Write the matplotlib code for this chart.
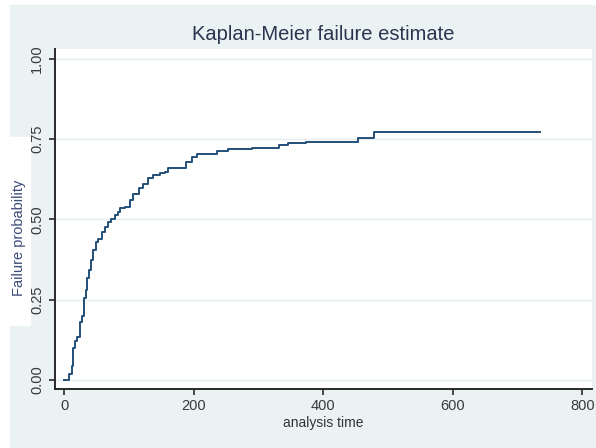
import matplotlib
matplotlib.use("Agg")
import matplotlib.pyplot as plt
from matplotlib.patches import Rectangle

# Kaplan-Meier failure estimate, step points
time = [0, 7, 12, 14, 17, 20, 24, 27, 30, 34, 36, 38, 42, 45, 49, 53, 58, 63,
        68, 72, 79, 84, 87, 94, 102, 107, 115, 122, 130, 138, 148, 156, 161,
        189, 197, 205, 236, 253, 290, 332, 346, 374, 454, 478, 734]
failure = [0.0, 0.02, 0.045, 0.10, 0.12, 0.135, 0.18, 0.20, 0.254, 0.28, 0.318,
           0.343, 0.374, 0.405, 0.43, 0.44, 0.462, 0.478, 0.493, 0.50, 0.514,
           0.524, 0.535, 0.54, 0.56, 0.58, 0.597, 0.612, 0.628, 0.639, 0.644,
           0.649, 0.659, 0.68, 0.696, 0.705, 0.712, 0.718, 0.724, 0.732, 0.737,
           0.742, 0.753, 0.771, 0.771]

xticks = [0, 200, 400, 600, 800]
yticks = [0.0, 0.25, 0.5, 0.75, 1.0]
ytick_labels = ["0.00", "0.25", "0.50", "0.75", "1.00"]

plt.rcParams['font.family'] = ['Liberation Sans', 'DejaVu Sans']

W, H = 596, 448
fig = plt.figure(figsize=(W / 100, H / 100), dpi=100, facecolor="white")

bg = "#eaf2f3"
# graph region (stata style), plus the white notch on the left of the screenshot
fig.patches.append(Rectangle((10 / W, 0), 1 - 10 / W, 1 - 5 / H,
                             transform=fig.transFigure, color=bg, zorder=-10))
fig.patches.append(Rectangle((0, 1 - 325 / H), 30 / W, (325 - 137) / H,
                             transform=fig.transFigure, color="white", zorder=-9))

ax = fig.add_axes([55 / W, 1 - 389 / H, (592 - 55) / W, (389 - 49) / H])
ax.set_facecolor("white")

ax.step(time, failure, where="post", color="#224f78", lw=1.4, zorder=3)

ax.set_xlim(-14, 815)
ax.set_ylim(-0.028, 1.031)
ax.set_xticks(xticks)
ax.set_yticks(yticks)
ax.set_yticklabels(ytick_labels, rotation=90, va="center")

ax.grid(axis="y", color="#e4eef0", lw=1.0)
ax.grid(axis="x", visible=False)

for s in ["top", "right"]:
    ax.spines[s].set_visible(False)
for s in ["left", "bottom"]:
    ax.spines[s].set_color("#2a2a2a")
    ax.spines[s].set_linewidth(1.4)

ax.tick_params(axis="both", direction="out", length=4.3, width=1.2,
               color="#2a2a2a", labelsize=10.5, labelcolor="#3a3a3a")
ax.tick_params(axis="y", pad=3.5)
ax.tick_params(axis="x", pad=3)

ax.set_xlabel("analysis time", fontsize=10, color="#333333")
ax.xaxis.set_label_coords(0.5, -0.1)
ax.xaxis.label.set_va("center")
ax.set_ylabel("Failure probability", fontsize=10.5, color="#3a4a7a")
ax.yaxis.set_label_coords(-0.067, 0.445)
ax.yaxis.label.set_va("center")

fig.text((55 + 592) / 2 / W, 1 - 34 / H, "Kaplan-Meier failure estimate",
         ha="center", va="center", fontsize=14.5, color="#2b3550")

fig.savefig("out.png", dpi=100, facecolor=fig.get_facecolor())
